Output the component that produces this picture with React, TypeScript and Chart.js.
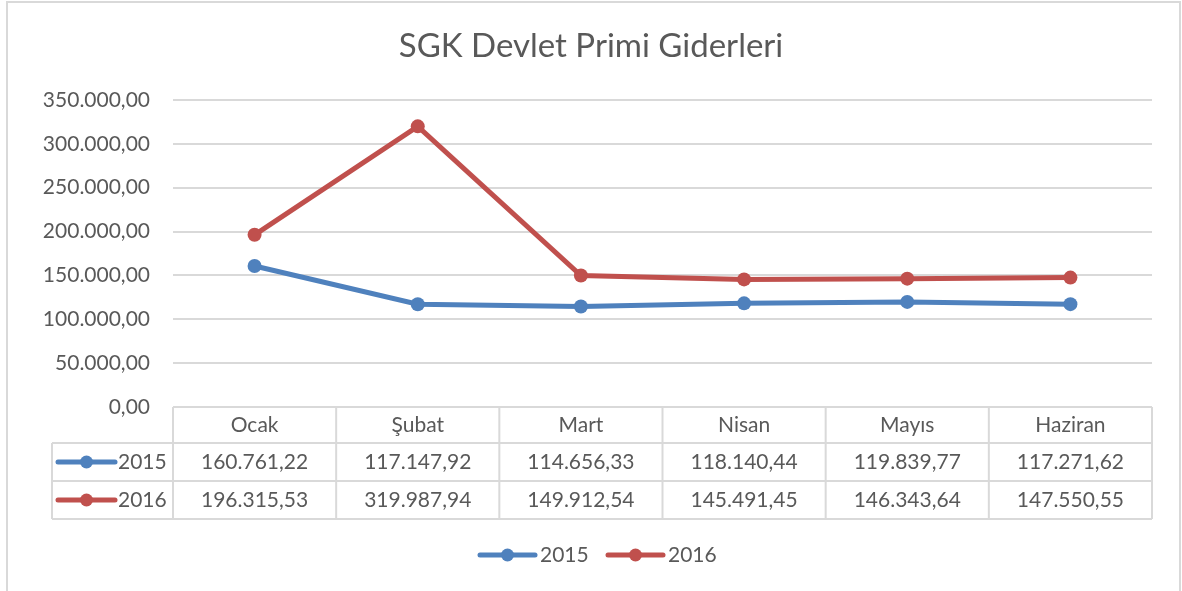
import React, { useEffect, useRef } from "react";
import { Chart, registerables } from "chart.js";

Chart.register(...registerables);

const chartTitle = "SGK Devlet Primi Giderleri";
const categories = ["Ocak", "Şubat", "Mart", "Nisan", "Mayıs", "Haziran"];
const seriesNames = ["2015", "2016"];
const values2015 = [160761.22, 117147.92, 114656.33, 118140.44, 119839.77, 117271.62];
const values2016 = [196315.53, 319987.94, 149912.54, 145491.45, 146343.64, 147550.55];
const seriesColors = ["#4f81bd", "#c0504d"];
const yMin = 0;
const yMax = 350000;
const yStep = 50000;

const FONT = "Lato, 'Open Sans', sans-serif";
const TEXT = "#595959";
const GRID = "#d9d9d9";

function fmt(v: number): string {
  const fixed = Math.abs(v).toFixed(2);
  const [i, d] = fixed.split(".");
  return (v < 0 ? "-" : "") + i.replace(/\B(?=(\d{3})+(?!\d))/g, ".") + "," + d;
}

function drawMarker(ctx: CanvasRenderingContext2D, x1: number, x2: number, y: number, color: string) {
  ctx.save();
  ctx.strokeStyle = color;
  ctx.lineWidth = 5;
  ctx.lineCap = "round";
  ctx.beginPath();
  ctx.moveTo(x1, y);
  ctx.lineTo(x2, y);
  ctx.stroke();
  ctx.fillStyle = color;
  ctx.beginPath();
  ctx.arc((x1 + x2) / 2, y, 6.5, 0, Math.PI * 2);
  ctx.fill();
  ctx.restore();
}

const excelPlugin = {
  id: "excelExtras",
  beforeDraw(chart: any) {
    const ctx: CanvasRenderingContext2D = chart.ctx;
    ctx.save();
    ctx.fillStyle = "#ffffff";
    ctx.fillRect(0, 0, chart.width, chart.height);
    ctx.strokeStyle = GRID;
    ctx.lineWidth = 2;
    ctx.strokeRect(7, 2, 1173, 700);
    ctx.fillStyle = TEXT;
    ctx.font = `33px ${FONT}`;
    ctx.textAlign = "center";
    ctx.textBaseline = "middle";
    ctx.fillText(chartTitle, chart.width / 2, 46);
    ctx.restore();
  },
  afterDraw(chart: any) {
    const ctx: CanvasRenderingContext2D = chart.ctx;
    const area = chart.chartArea;
    const xs = chart.scales.x;
    const n = categories.length;
    const colW = (area.right - area.left) / n;
    const top = area.bottom;
    const headerB = top + 36;
    const row1B = headerB + 38;
    const row2B = row1B + 38;
    const leftX = 52;

    ctx.save();
    ctx.strokeStyle = GRID;
    ctx.lineWidth = 2;
    ctx.beginPath();
    ctx.moveTo(area.left, top);
    ctx.lineTo(area.right, top);
    ctx.moveTo(leftX, headerB);
    ctx.lineTo(area.right, headerB);
    ctx.moveTo(leftX, row1B);
    ctx.lineTo(area.right, row1B);
    ctx.moveTo(leftX, row2B);
    ctx.lineTo(area.right, row2B);
    ctx.moveTo(leftX, headerB);
    ctx.lineTo(leftX, row2B);
    for (let i = 0; i <= n; i++) {
      const x = i < n ? xs.getPixelForValue(i) - colW / 2 : xs.getPixelForValue(n - 1) + colW / 2;
      ctx.moveTo(x, top);
      ctx.lineTo(x, row2B);
    }
    ctx.stroke();

    ctx.fillStyle = TEXT;
    ctx.font = `21px ${FONT}`;
    ctx.textAlign = "center";
    ctx.textBaseline = "middle";
    const rows = [values2015, values2016];
    const rowY = [(headerB + row1B) / 2, (row1B + row2B) / 2];
    categories.forEach((c, i) => {
      const cx = xs.getPixelForValue(i);
      ctx.fillText(c, cx, (top + headerB) / 2);
      rows.forEach((r, k) => ctx.fillText(fmt(r[i]), cx, rowY[k]));
    });
    ctx.textAlign = "left";
    seriesNames.forEach((s, k) => {
      drawMarker(ctx, 58, 115, rowY[k], seriesColors[k]);
      ctx.fillStyle = TEXT;
      ctx.fillText(s, 118, rowY[k]);
    });

    const ly = 555;
    const legendX = [480, 608];
    seriesNames.forEach((s, k) => {
      drawMarker(ctx, legendX[k], legendX[k] + 55, ly, seriesColors[k]);
      ctx.fillStyle = TEXT;
      ctx.fillText(s, legendX[k] + 60, ly);
    });
    ctx.restore();
  },
};

export default function App() {
  const ref = useRef<HTMLCanvasElement | null>(null);
  useEffect(() => {
    if (!ref.current) return;
    const chart = new Chart(ref.current, {
      type: "line",
      data: {
        labels: categories,
        datasets: [values2015, values2016].map((vals, k) => ({
          label: seriesNames[k],
          data: vals,
          borderColor: seriesColors[k],
          backgroundColor: seriesColors[k],
          borderWidth: 5,
          pointRadius: 7,
          pointHoverRadius: 7,
          pointBorderWidth: 0,
          pointBackgroundColor: seriesColors[k],
          tension: 0,
          clip: false as any,
        })),
      },
      options: {
        responsive: false,
        animation: false,
        layout: { padding: { top: 100, left: 0, right: 30, bottom: 184 } },
        plugins: {
          legend: { display: false },
          title: { display: false },
          tooltip: { enabled: false },
        },
        scales: {
          x: {
            type: "category",
            offset: true,
            display: false,
            grid: { display: false },
          },
          y: {
            min: yMin,
            max: yMax,
            afterFit: (scale: any) => {
              scale.width = 173;
            },
            border: { display: false },
            grid: { color: GRID, lineWidth: 2, drawTicks: false },
            ticks: {
              stepSize: yStep,
              padding: 23,
              color: TEXT,
              font: { family: FONT, size: 21 },
              callback: (v: any) => fmt(Number(v)),
            },
          },
        },
      },
      plugins: [excelPlugin],
    });
    return () => chart.destroy();
  }, []);
  return (
    <div style={{ position: "absolute", left: 0, top: 0, width: 1182, height: 591 }}>
      <canvas ref={ref} width={1182} height={591} />
    </div>
  );
}
